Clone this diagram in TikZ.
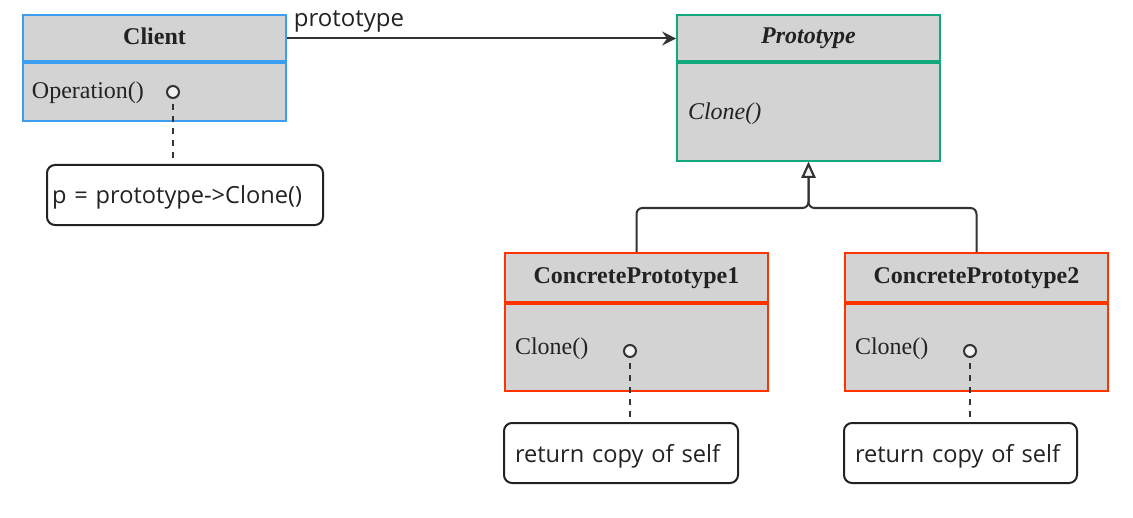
\documentclass[tikz,border=0pt]{standalone}
\usepackage{fontspec}
\setmainfont{Liberation Serif}
\newfontfamily\notefont{Open Sans}
\usepackage{xcolor}
\usetikzlibrary{arrows.meta,positioning,calc}
\definecolor{clientblue}{RGB}{59,158,240}
\definecolor{protogreen}{RGB}{16,168,124}
\definecolor{concretered}{RGB}{255,51,0}
\definecolor{boxgray}{RGB}{211,211,211}
\definecolor{wire}{RGB}{51,51,51}
\definecolor{ink}{RGB}{34,34,34}
\definecolor{pinwhite}{RGB}{242,242,242}

\begin{document}
\begin{tikzpicture}[x=.5pt,y=-.5pt,
  classbox/.style={rectangle,fill=boxgray,line width=.9pt,minimum width=131.5pt,inner sep=0pt},
  divider/.style={line width=2pt},
  title/.style={font=\fontsize{12}{14}\selectfont\bfseries,text=ink,inner sep=0pt,text depth=0pt},
  oper/.style={font=\fontsize{12}{14}\selectfont,text=ink,anchor=west,inner sep=0pt},
  pin/.style={circle,fill=pinwhite,draw=wire,line width=1pt,minimum size=6pt,inner sep=0pt},
  note/.style={rectangle,rounded corners=4pt,draw=ink,fill=white,line width=1pt,text depth=0pt,
    font=\notefont\fontsize{11.8}{14}\selectfont,text=ink,align=left,minimum height=30pt,inner ysep=0pt},
  lbl/.style={font=\notefont\fontsize{12}{14}\selectfont,text=ink,inner sep=0pt},
  tether/.style={draw=wire,dash pattern=on 3pt off 3pt},
  assoc/.style={draw=wire,-{Stealth[length=7pt,width=7pt,inset=2.5pt]}},
  inherit/.style={draw=wire,rounded corners=3pt,-{Triangle[length=8pt,width=7pt,fill=pinwhite]}},
  every path/.style={line width=1pt}]
\useasboundingbox (0,0) rectangle (1133,518);
\node[classbox,draw=clientblue,minimum height=53pt] (client) at (154.5,68) {};
\node[classbox,draw=protogreen,minimum height=73pt] (proto) at (808.5,88) {};
\node[classbox,draw=concretered,minimum height=69pt] (cp1) at (636.5,322) {};
\node[classbox,draw=concretered,minimum height=69pt] (cp2) at (976.5,322) {};
\draw[divider,clientblue] (client.west |- 0,62) -- (client.east |- 0,62);
\draw[divider,protogreen] (proto.west |- 0,62) -- (proto.east |- 0,62);
\draw[divider,concretered] (cp1.west |- 0,303) -- (cp1.east |- 0,303);
\draw[divider,concretered] (cp2.west |- 0,303) -- (cp2.east |- 0,303);
\node[title] (clientname) at (154.5,36) {Client};
\node[title,font=\fontsize{12}{14}\selectfont\bfseries\itshape] (protoname) at (808.5,36) {Prototype};
\node[title] (cp1name) at (636.5,276) {ConcretePrototype1};
\node[title] (cp2name) at (976.5,276) {ConcretePrototype2};
\node[oper] (clientop) at (31,93) {Operation()};
\node[oper,font=\fontsize{12}{14}\selectfont\itshape] (protoop) at (687,114) {Clone()};
\node[oper] (cp1op) at (514,349) {Clone()};
\node[oper] (cp2op) at (854,349) {Clone()};
\node[note,inner xsep=2.5pt,text width=133pt] (note1) at (185,195) {p = prototype->Clone()};
\node[note,inner xsep=5.5pt,text width=106pt] (note2) at (621,453) {return copy of self};
\node[note,inner xsep=5.5pt,text width=105.5pt] (note3) at (960.5,453) {return copy of self};
\draw[tether] (173,92) -- (173,92 |- note1.north);
\draw[tether] (630,351) -- (630,351 |- note2.north);
\draw[tether] (970,351) -- (970,351 |- note3.north);
\node[pin] (clientpin) at (173,92) {};
\node[pin] (cp1pin) at (630,351) {};
\node[pin] (cp2pin) at (970,351) {};
\draw[assoc] (client.east |- 0,38.5) -- (proto.west |- 0,38.5);
\node[lbl] (protolbl) at (349,21) {prototype};
\draw[inherit] (cp1.north) |- (proto.south |- 0,208) -- (proto.south);
\draw[inherit] (cp2.north) |- (proto.south |- 0,208) -- (proto.south);
\end{tikzpicture}
\end{document}
